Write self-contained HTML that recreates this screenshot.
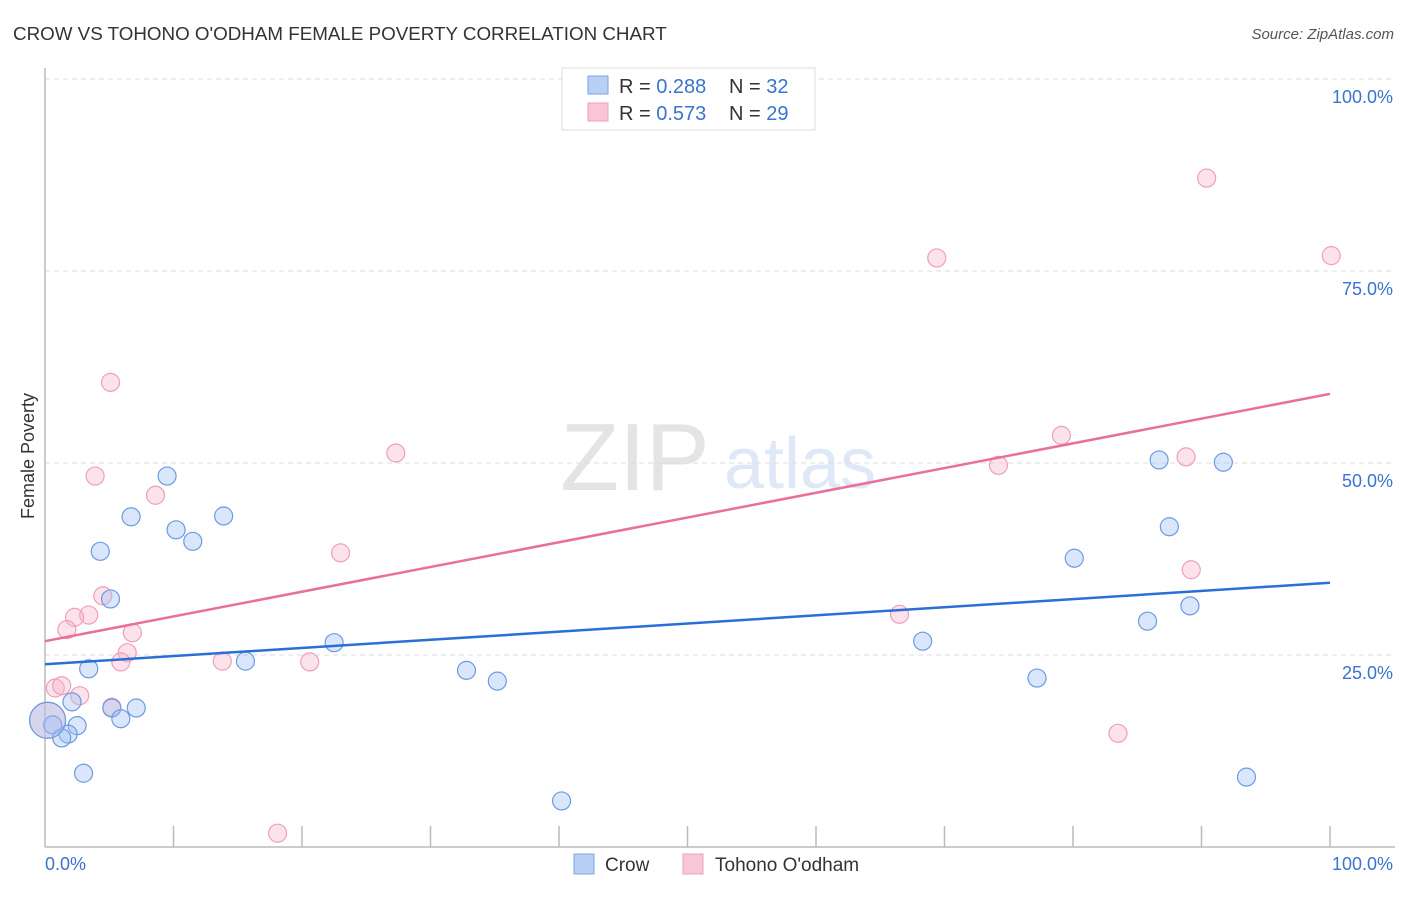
<!DOCTYPE html>
<html><head><meta charset="utf-8"><style>
body{margin:0;background:#fff;font-family:"Liberation Sans",sans-serif;}
svg text{font-family:"Liberation Sans",sans-serif;}
</style></head><body>
<svg id="chart" width="1406" height="892" xmlns="http://www.w3.org/2000/svg">
<text x="13" y="40" font-size="18.8" fill="#333">CROW VS TOHONO O'ODHAM FEMALE POVERTY CORRELATION CHART</text>
<text x="1394" y="39" font-size="15" fill="#555" text-anchor="end" font-style="italic">Source: ZipAtlas.com</text>
<g>
<text x="635" y="490" font-size="96" fill="#e4e4e4" font-family="Liberation Serif" text-anchor="middle">ZIP</text>
<text x="800" y="488" font-size="72" fill="#dfe8f6" text-anchor="middle">atlas</text>
</g>
<g id="grid"></g><g id="axes"></g><g id="marks"></g>
<text transform="translate(34,456) rotate(-90)" font-size="18" fill="#333" text-anchor="middle">Female Poverty</text>
<g>
<rect x="562" y="68" width="253" height="62" fill="#fff" stroke="#ddd"/>
<rect x="588" y="76" width="20" height="18" fill="#b9d0f5" stroke="#7aa3e3"/>
<text x="619" y="93" font-size="20" fill="#333">R = <tspan fill="#3a73d0">0.288</tspan></text>
<text x="729" y="93" font-size="20" fill="#333">N = <tspan fill="#3a73d0">32</tspan></text>
<rect x="588" y="103" width="20" height="18" fill="#f9c6d5" stroke="#eea0b8"/>
<text x="619" y="120" font-size="20" fill="#333">R = <tspan fill="#3a73d0">0.573</tspan></text>
<text x="729" y="120" font-size="20" fill="#333">N = <tspan fill="#3a73d0">29</tspan></text>
</g>
<g>
<rect x="574" y="854" width="20" height="20" fill="#b9d0f5" stroke="#7aa3e3"/>
<text x="605" y="871" font-size="19" fill="#333">Crow</text>
<rect x="683" y="854" width="20" height="20" fill="#f9c6d5" stroke="#eea0b8"/>
<text x="715" y="871" font-size="19" fill="#333">Tohono O'odham</text>
</g>
</svg>
<script>
const yTicks=[25,50,75,100];
const yTickLabels=["25.0%","50.0%","75.0%","100.0%"];
const crowX=[9.5,6.7,13.9,4.3,10.2,11.5,5.1,22.5,15.6,3.4,32.8,35.2,2.1,7.1,5.2,5.9,2.5,0.6,1.8,1.3,3.0,40.2,86.7,91.7,87.5,80.1,89.1,85.8,68.3,77.2,93.5,0.2];
const crowY=[48.3,43.0,43.1,38.5,41.3,39.8,32.3,26.6,24.2,23.2,23.0,21.6,18.9,18.1,18.1,16.7,15.8,15.9,14.7,14.2,9.6,6.0,50.4,50.1,41.7,37.6,31.4,29.4,26.8,22.0,9.1,16.5];
const tohX=[5.1,3.9,27.3,8.6,23.0,4.5,3.4,2.3,1.7,6.8,6.4,5.9,13.8,20.6,2.7,0.8,1.3,5.2,18.1,69.4,90.4,100.1,79.1,74.2,88.8,89.2,66.5,83.5,0.2];
const tohY=[60.5,48.3,51.3,45.8,38.3,32.7,30.2,29.9,28.3,27.9,25.3,24.1,24.2,24.1,19.7,20.7,21.0,18.2,1.8,76.7,87.1,77.0,53.6,49.7,50.8,36.1,30.3,14.8,16.5];
const crowTrend=[23.8,34.4];
const tohTrend=[26.8,59.0];
const NS="http://www.w3.org/2000/svg";
const sx=v=>45+v*12.85, sy=v=>847-v*7.68;
function mk(tag,attrs,parent){const e=document.createElementNS(NS,tag);for(const k in attrs)e.setAttribute(k,attrs[k]);document.getElementById(parent).appendChild(e);return e;}
yTicks.forEach((t,i)=>{
 const l=mk('line',{x1:45,x2:1395,y1:sy(t),y2:sy(t),stroke:'#ddd','stroke-dasharray':'5,4'},'grid');
 
 
 const tx=mk('text',{x:1393,y:sy(t)+24,'font-size':18,fill:'#3a73d0','text-anchor':'end'},'grid');
 tx.textContent=yTickLabels[i];
 
 
});
let a=mk('line',{x1:45,x2:45,y1:68,y2:847,stroke:'#bbb','stroke-width':1.5},'axes');


a=mk('line',{x1:45,x2:1395,y1:847,y2:847,stroke:'#bbb','stroke-width':1.5},'axes');


for(let i=1;i<=10;i++){const t=mk('line',{x1:sx(i*10),x2:sx(i*10),y1:826,y2:847,stroke:'#bbb','stroke-width':1.5},'axes');
 
 }
let xl=mk('text',{x:45,y:870,'font-size':18,fill:'#3a73d0'},'axes');xl.textContent='0.0%';


xl=mk('text',{x:1393,y:870,'font-size':18,fill:'#3a73d0','text-anchor':'end'},'axes');xl.textContent='100.0%';


function pts(X,Y,fill,stroke,name){X.forEach((x,i)=>{const big=i===X.length-1;const c=mk('circle',{cx:sx(x),cy:sy(Y[i]),r:big?18:9,fill:fill,stroke:stroke,'stroke-width':1.2},'marks');
 
 });}
pts(tohX,tohY,'rgba(248,182,202,0.4)','#eea0b8','tohono-point');
pts(crowX,crowY,'rgba(160,192,244,0.4)','#6c9be0','crow-point');
let tl=mk('line',{x1:sx(0),x2:sx(100),y1:sy(tohTrend[0]),y2:sy(tohTrend[1]),stroke:'#e8709a','stroke-width':2.5},'marks');


tl=mk('line',{x1:sx(0),x2:sx(100),y1:sy(crowTrend[0]),y2:sy(crowTrend[1]),stroke:'#2a6fd6','stroke-width':2.5},'marks');


</script>
</body></html>
